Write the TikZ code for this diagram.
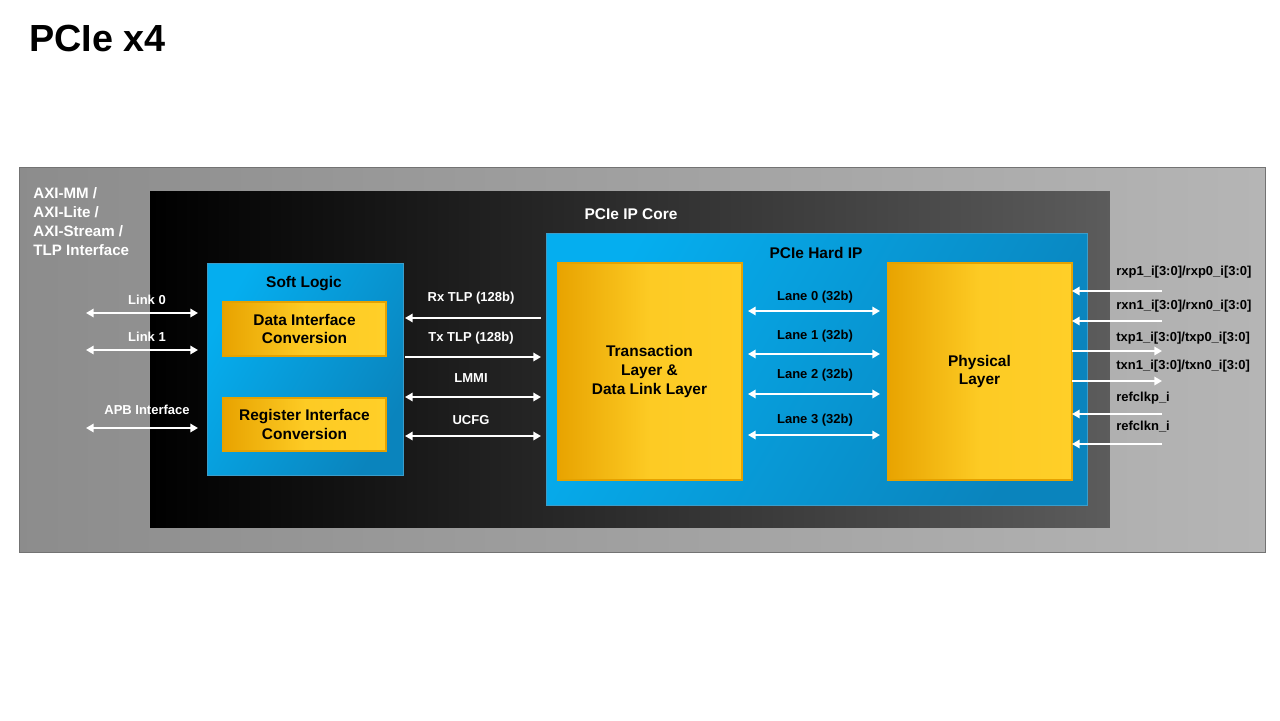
\documentclass[tikz,border=0pt]{standalone}
\usepackage{fontspec}
\setmainfont{Liberation Sans}
\usepackage{tikz}
\usetikzlibrary{arrows.meta,positioning}

\definecolor{hipblue}{HTML}{05AEEF}
\definecolor{hipdeep}{HTML}{0A84BD}
\definecolor{yelL}{HTML}{E8A300}
\definecolor{yelR}{HTML}{FFCF28}
\definecolor{yelEdge}{HTML}{E5A200}

\tikzset{
    box/.style={inner sep=0pt, outer sep=0pt},
    bluebox/.style={box, draw=hipdeep!80, line width=0.4pt, shading=axis, left color=hipblue, right color=hipdeep, shading angle=60},
    yelbox/.style={box, draw=yelEdge, line width=0.6pt, left color=yelL, right color=yelR, middle color=yelR!90!yelL, align=center, font=\bfseries\fontsize{8.8}{10.6}\selectfont},
    lbl/.style={font=\bfseries\fontsize{7.4}{8.5}\selectfont, inner sep=0pt},
    wire/.style={draw=white, line width=1.1pt},
    both/.style={wire, {Triangle[width=4.8pt,length=4.4pt]}-{Triangle[width=4.8pt,length=4.4pt]}},
    tor/.style={wire, -{Triangle[width=4.8pt,length=4.4pt]}},
    tol/.style={wire, {Triangle[width=4.8pt,length=4.4pt]}-}
}

\begin{document}
\begin{tikzpicture}[x=0.02cm,y=-0.02cm]
\useasboundingbox (0,0) rectangle (1280,720);

\node[anchor=west, inner sep=0pt, font=\bfseries\fontsize{21.5}{25}\selectfont] (title) at (29,38) {PCIe x4};

% frames
\node[box, draw=gray!90!black, left color=black!45, right color=black!29, minimum width=24.92cm, minimum height=7.7cm] (outer) at (642,359.5) {};
\node[box, left color=black, right color=black!64, minimum width=19.2cm, minimum height=6.74cm] (core) at (630,359.5) {};
\node[anchor=north west, inner sep=0pt, align=left, text=white, font=\bfseries\fontsize{8.6}{10.8}\selectfont] (axi) at (33,187) {AXI-MM /\\AXI-Lite /\\AXI-Stream /\\TLP Interface};
\node[lbl, text=white, font=\bfseries\fontsize{8.8}{10}\selectfont] (coreT) at (631,214) {PCIe IP Core};

% soft logic
\node[bluebox, minimum width=3.92cm, minimum height=4.24cm] (soft) at (305,369) {};
\node[lbl, font=\bfseries\fontsize{8.8}{10}\selectfont] (softT) at (304,284) {Soft Logic};
\node[yelbox, minimum width=3.26cm, minimum height=1.08cm] (dic) at (304.5,329) {Data Interface\\Conversion};
\node[yelbox, minimum width=3.26cm, minimum height=1.06cm] (ric) at (304.5,424.5) {Register Interface\\Conversion};

% hard ip
\node[bluebox, minimum width=10.82cm, minimum height=5.44cm] (hip) at (816.5,369) {};
\node[lbl, font=\bfseries\fontsize{8.8}{10}\selectfont] (hipT) at (816,253) {PCIe Hard IP};
\node[yelbox, minimum width=3.7cm, minimum height=4.34cm] (tl) at (649.5,371.5) {Transaction\\Layer \&\\Data Link Layer};
\node[yelbox, minimum width=3.7cm, minimum height=4.34cm] (phy) at (979.5,371.5) {Physical\\Layer};

% user side
\foreach \nm/\y/\ly/\txt in {lk0/313/300/Link 0, lk1/350/337/Link 1, apb/428/410/APB Interface}{
    \coordinate (\nm a) at (86,\y);
    \coordinate (\nm b) at (198,\y);
    \draw[both] (\nm a) -- (\nm b);
    \node[lbl, text=white] (\nm T) at (147,\ly) {\txt};
}

% soft logic to hard ip
\coordinate (rxa) at (541,318); \coordinate (rxb) at (405,318);
\coordinate (txa) at (405,357); \coordinate (txb) at (541,357);
\coordinate (lma) at (405,397); \coordinate (lmb) at (541,397);
\coordinate (uca) at (405,436); \coordinate (ucb) at (541,436);
\draw[tor] (rxa) -- (rxb);
\draw[tor] (txa) -- (txb);
\draw[both] (lma) -- (lmb);
\draw[both] (uca) -- (ucb);
\node[lbl, text=white] (rxT) at (471,298) {Rx TLP (128b)};
\node[lbl, text=white] (txT) at (471,338) {Tx TLP (128b)};
\node[lbl, text=white] (lmT) at (471,378) {LMMI};
\node[lbl, text=white] (ucT) at (471,420) {UCFG};

% lanes
\foreach \i/\y/\ly in {0/311/297, 1/354/336, 2/394/375, 3/435/420}{
    \coordinate (ln\i a) at (748,\y);
    \coordinate (ln\i b) at (880,\y);
    \draw[both] (ln\i a) -- (ln\i b);
    \node[lbl] (ln\i T) at (815,\ly) {Lane \i\ (32b)};
}

% serial pins
\foreach \nm/\y/\ly/\txt/\dir in {rxp/291/272/{rxp1\_i[3:0]/rxp0\_i[3:0]}/tol, rxn/321/306/{rxn1\_i[3:0]/rxn0\_i[3:0]}/tol, txp/351/338/{txp1\_i[3:0]/txp0\_i[3:0]}/tor, txn/381/366/{txn1\_i[3:0]/txn0\_i[3:0]}/tor, rcp/414/398/{refclkp\_i}/tol, rcn/444/427/{refclkn\_i}/tol}{
    \coordinate (\nm a) at (1072,\y);
    \coordinate (\nm b) at (1162,\y);
    \draw[\dir] (\nm a) -- (\nm b);
    \node[lbl, anchor=west] (\nm T) at (1116,\ly) {\txt};
}
\end{tikzpicture}
\end{document}
